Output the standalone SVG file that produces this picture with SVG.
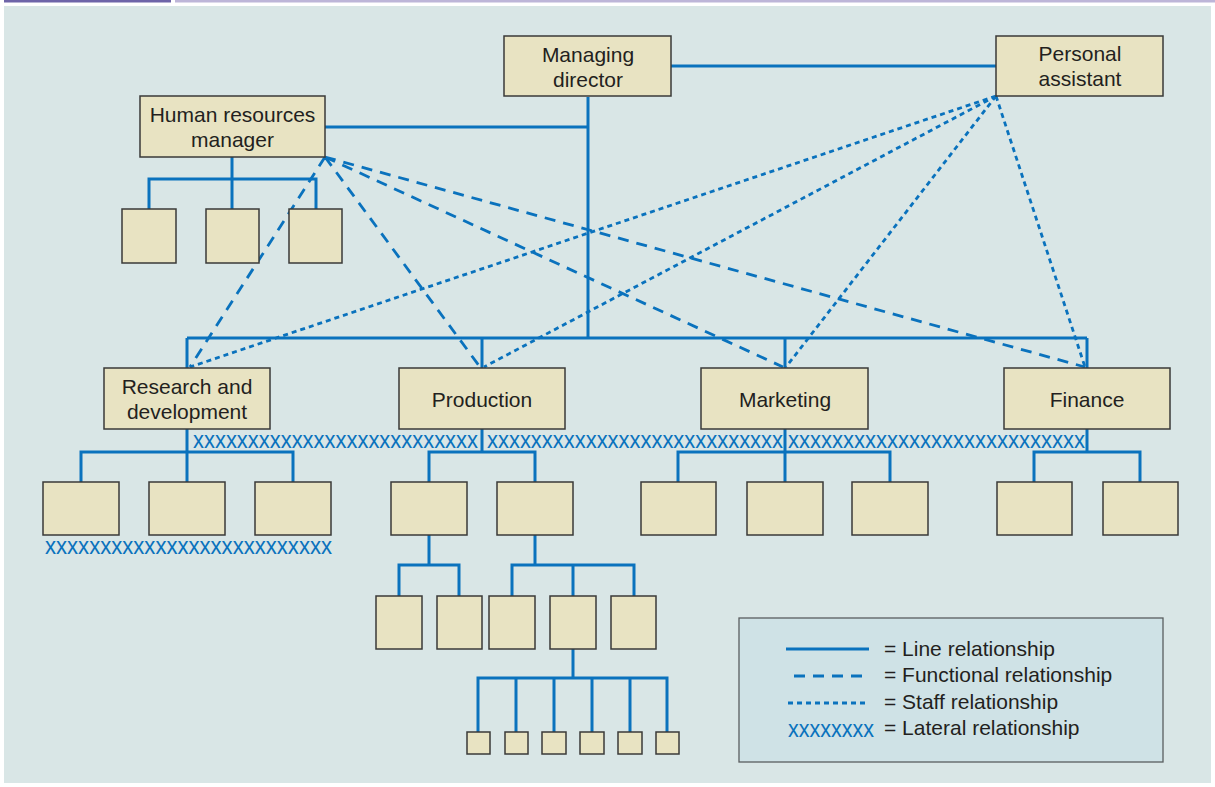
<svg xmlns="http://www.w3.org/2000/svg" width="1215" height="787" viewBox="0 0 1215 787">
  <style>
    .box { fill: #e8e3c2; stroke: #3a3a38; stroke-width: 1.5; }
    .lbl { font-family: "Liberation Sans", Arial, sans-serif; font-size: 21px; fill: #231f20; text-anchor: middle; }
    .leg { font-family: "Liberation Sans", Arial, sans-serif; font-size: 21px; fill: #231f20; }
    .line { fill: none; stroke: #0a72bd; stroke-width: 3; }
    .func { fill: none; stroke: #0a72bd; stroke-width: 2.8; stroke-dasharray: 11 8; }
    .staff { fill: none; stroke: #0a72bd; stroke-width: 2.8; stroke-dasharray: 5 4; }
    .lat { font-family: "Liberation Sans", Arial, sans-serif; font-size: 24.5px; fill: #0a72bd; }
  </style>

  <!-- page header bars and panel -->
  <rect x="4" y="0" width="167" height="2.5" fill="#6e64a8"/>
  <rect x="175" y="0" width="1040" height="2.5" fill="#bdb5d8"/>
  <rect x="4" y="6" width="1207" height="777" fill="#d9e6e6"/>

  <!-- connectors -->
  <g id="connectors">
    <!-- line relationships -->
    <path class="line" d="M671 66H996 M325 127H588 M588 97V338 M187 338H1087 M187 338V368 M482 338V368 M785 338V368 M1087 338V368"/>
    <path class="line" d="M232 157V179 M149 209V179H316V209 M232 179V209"/>
    <path class="line" d="M187 429V452 M81 482V452H293V482 M187 452V482"/>
    <path class="line" d="M482 429V452 M429 482V452H535V482"/>
    <path class="line" d="M429 535V565 M399 596V565H459V596"/>
    <path class="line" d="M535 535V565 M512 596V565H634V596 M573 565V596"/>
    <path class="line" d="M573 649V678 M478 732V678H667V732 M516 678V732 M554 678V732 M592 678V732 M630 678V732"/>
    <path class="line" d="M785 429V452 M678 482V452H890V482 M785 452V482"/>
    <path class="line" d="M1087 429V452 M1034 482V452H1140V482"/>
    <!-- functional relationships from human resources -->
    <path class="func" d="M325 157L190 367 M325 157L480 367 M325 157L783 367 M325 157L1085 367"/>
    <!-- staff relationships from personal assistant -->
    <path class="staff" d="M996 96L190 367 M996 96L484 367 M996 96L786 367 M996 96L1085 367"/>
    <!-- lateral relationships -->
    <text class="lat" x="193" y="447.5" textLength="285" lengthAdjust="spacingAndGlyphs">xxxxxxxxxxxxxxxxxxxxxxxxxx</text>
    <text class="lat" x="487" y="447.5" textLength="296" lengthAdjust="spacingAndGlyphs">xxxxxxxxxxxxxxxxxxxxxxxxxxx</text>
    <text class="lat" x="788" y="447.5" textLength="297" lengthAdjust="spacingAndGlyphs">xxxxxxxxxxxxxxxxxxxxxxxxxxx</text>
    <text class="lat" x="45" y="554" textLength="287" lengthAdjust="spacingAndGlyphs">xxxxxxxxxxxxxxxxxxxxxxxxxx</text>
  </g>

  <!-- top management -->
  <g id="managing-director">
    <rect class="box" x="504" y="36" width="167" height="60"/>
    <text class="lbl" x="588" y="62">Managing</text>
    <text class="lbl" x="588" y="87">director</text>
  </g>
  <g id="personal-assistant">
    <rect class="box" x="996" y="36" width="167" height="60"/>
    <text class="lbl" x="1080" y="61">Personal</text>
    <text class="lbl" x="1080" y="86">assistant</text>
  </g>
  <g id="hr-manager">
    <rect class="box" x="140" y="96" width="185" height="61"/>
    <text class="lbl" x="232.5" y="122">Human resources</text>
    <text class="lbl" x="232.5" y="147">manager</text>
  </g>
  <g id="hr-staff">
    <rect class="box" x="122" y="209" width="54" height="54"/>
    <rect class="box" x="206" y="209" width="53" height="54"/>
    <rect class="box" x="289" y="209" width="53" height="54"/>
  </g>

  <!-- departments -->
  <g id="research-development">
    <rect class="box" x="104" y="368" width="166" height="61"/>
    <text class="lbl" x="187" y="394">Research and</text>
    <text class="lbl" x="187" y="419">development</text>
  </g>
  <g id="production">
    <rect class="box" x="399" y="368" width="166" height="61"/>
    <text class="lbl" x="482" y="407">Production</text>
  </g>
  <g id="marketing">
    <rect class="box" x="701" y="368" width="167" height="61"/>
    <text class="lbl" x="785" y="407">Marketing</text>
  </g>
  <g id="finance">
    <rect class="box" x="1004" y="368" width="166" height="61"/>
    <text class="lbl" x="1087" y="407">Finance</text>
  </g>

  <!-- second level units -->
  <g id="rd-units">
    <rect class="box" x="43" y="482" width="76" height="53"/>
    <rect class="box" x="149" y="482" width="76" height="53"/>
    <rect class="box" x="255" y="482" width="76" height="53"/>
  </g>
  <g id="production-units">
    <rect class="box" x="391" y="482" width="76" height="53"/>
    <rect class="box" x="497" y="482" width="76" height="53"/>
  </g>
  <g id="marketing-units">
    <rect class="box" x="641" y="482" width="75" height="53"/>
    <rect class="box" x="747" y="482" width="76" height="53"/>
    <rect class="box" x="852" y="482" width="76" height="53"/>
  </g>
  <g id="finance-units">
    <rect class="box" x="997" y="482" width="75" height="53"/>
    <rect class="box" x="1103" y="482" width="75" height="53"/>
  </g>

  <!-- third level production units -->
  <g id="production-sections">
    <rect class="box" x="376" y="596" width="46" height="53"/>
    <rect class="box" x="437" y="596" width="45" height="53"/>
    <rect class="box" x="489" y="596" width="46" height="53"/>
    <rect class="box" x="550" y="596" width="46" height="53"/>
    <rect class="box" x="611" y="596" width="45" height="53"/>
  </g>
  <g id="production-teams">
    <rect class="box" x="467" y="732" width="23" height="22"/>
    <rect class="box" x="505" y="732" width="23" height="22"/>
    <rect class="box" x="542" y="732" width="24" height="22"/>
    <rect class="box" x="580" y="732" width="24" height="22"/>
    <rect class="box" x="618" y="732" width="24" height="22"/>
    <rect class="box" x="656" y="732" width="23" height="22"/>
  </g>

  <!-- key -->
  <g id="legend">
    <rect x="739" y="618" width="424" height="144" fill="#cfe2e6" stroke="#5a5e60" stroke-width="1.3"/>
    <line class="line" x1="786" y1="649" x2="869" y2="649"/>
    <line class="func" x1="794" y1="676" x2="869" y2="676" stroke-dasharray="10 10"/>
    <line class="staff" x1="788" y1="703" x2="869" y2="703"/>
    <text class="lat" x="788" y="737" textLength="86" lengthAdjust="spacingAndGlyphs">xxxxxxxx</text>
    <text class="leg" x="884" y="656">= Line relationship</text>
    <text class="leg" x="884" y="682">= Functional relationship</text>
    <text class="leg" x="884" y="709">= Staff relationship</text>
    <text class="leg" x="884" y="735">= Lateral relationship</text>
  </g>
</svg>
